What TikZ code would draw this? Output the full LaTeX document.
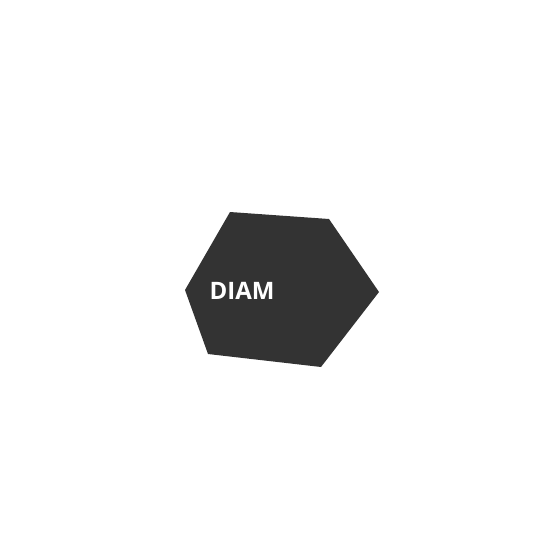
\documentclass[tikz,border=0pt]{standalone}
\usepackage{fontspec}
\setmainfont{Open Sans}
\definecolor{hexfill}{HTML}{333333}
\begin{document}
\begin{tikzpicture}[x=1pt,y=-1pt,
  hexshape/.style={fill=hexfill,draw=none},
  hexlabel/.style={text=white,font=\fontsize{24}{27}\selectfont\bfseries,inner sep=0pt}]
\useasboundingbox (0,0) rectangle (560,560);
\coordinate (v1) at (230,212);
\coordinate (v2) at (329,219);
\coordinate (v3) at (379,292);
\coordinate (v4) at (321,367);
\coordinate (v5) at (208,354);
\coordinate (v6) at (185,290);
\fill[hexshape] (v1) -- (v2) -- (v3) -- (v4) -- (v5) -- (v6) -- cycle;
\node[hexlabel,anchor=base] (lbl) at (242,299) {DIAM};
\end{tikzpicture}
\end{document}
